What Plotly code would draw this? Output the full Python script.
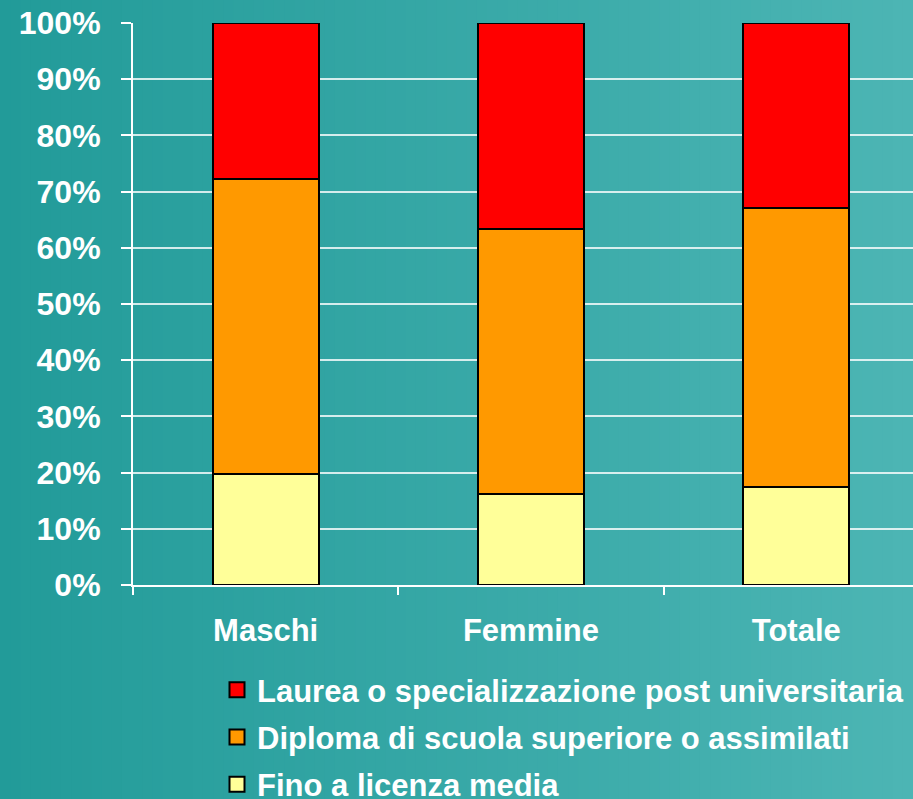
import plotly.graph_objects as go

categories = ["Maschi", "Femmine", "Totale"]
fino_licenza = [19.8, 16.2, 17.4]
diploma = [52.4, 47.1, 49.7]
laurea = [27.8, 36.7, 32.9]

series_names = [
    "Fino a licenza media",
    "Diploma di scuola superiore o assimilati",
    "Laurea o specializzazione post universitaria",
]
series_colors = ["#FFFF99", "#FF9900", "#FF0000"]

# page is 913x799; figure is a bit taller so the legend's last row sits at the edge like the original
W, H = 913, 840
L, R, T = 133, 0, 23
B = H - 585

fig = go.Figure()

for name, vals, col in zip(series_names, [fino_licenza, diploma, laurea], series_colors):
    fig.add_trace(
        go.Bar(
            x=categories,
            y=vals,
            name=name,
            width=0.4,
            showlegend=False,
            marker=dict(color=col, line=dict(color="black", width=2)),
        )
    )

# legend entries: bigger square swatches than the bar legend gives
for name, col in reversed(list(zip(series_names, series_colors))):
    fig.add_trace(
        go.Scatter(
            x=[None], y=[None], mode="markers", name=name, legendgroup=name,
            marker=dict(symbol="square", size=15, color=col, line=dict(color="black", width=2)),
        )
    )

# horizontal teal gradient background built from thin stripes
pw, ph = W - L - R, H - T - B
n = 90
c0, c1 = (0x22, 0x9B, 0x99), (0x4C, 0xB5, 0xB4)
for i in range(n):
    f = i / (n - 1)
    col = "rgb(%d,%d,%d)" % tuple(round(a + (b - a) * f) for a, b in zip(c0, c1))
    x0 = (W * i / n - L) / pw
    x1 = (W * (i + 1) / n + 1 - L) / pw
    fig.add_shape(
        type="rect", xref="paper", yref="paper",
        x0=x0, x1=x1, y0=(T + ph - H - 2) / ph, y1=(T + ph + 2) / ph,
        fillcolor=col, line=dict(width=0), layer="below",
    )

font = dict(family="Liberation Sans, Arial, sans-serif", size=31, color="white", weight="bold")
yfont = dict(font, size=32)

fig.update_layout(
    width=W,
    height=H,
    margin=dict(l=L, r=R, t=T, b=B),
    barmode="stack",
    paper_bgcolor="#33A6A6",
    plot_bgcolor="rgba(0,0,0,0)",
    font=font,
    showlegend=True,
    legend=dict(
        orientation="v",
        x=(217 - L) / pw,
        y=(T + ph - 663) / ph,
        xanchor="left",
        yanchor="top",
        font=font,
        bgcolor="rgba(0,0,0,0)",
        traceorder="grouped",
        tracegroupgap=4,
        itemsizing="trace",
    ),
)

fig.update_xaxes(
    type="category",
    range=[-0.5, 2.44],
    tickson="boundaries",
    ticks="outside",
    ticklen=8,
    tickwidth=2,
    tickcolor="white",
    showline=True,
    linecolor="white",
    linewidth=2,
    showgrid=False,
    tickfont=font,
    ticklabelstandoff=17,
)

fig.update_yaxes(
    range=[0, 100],
    dtick=10,
    ticksuffix="%",
    ticks="outside",
    ticklen=10,
    tickwidth=2,
    tickcolor="white",
    showline=True,
    linecolor="white",
    linewidth=2,
    gridcolor="rgba(255,255,255,0.8)",
    gridwidth=1.5,
    zeroline=False,
    tickfont=yfont,
    ticklabelstandoff=14,
)

fig.write_html(
    "out.html",
    config={"displayModeBar": False},
    post_script="document.body.style.margin='0';document.body.style.overflow='hidden';",
)
